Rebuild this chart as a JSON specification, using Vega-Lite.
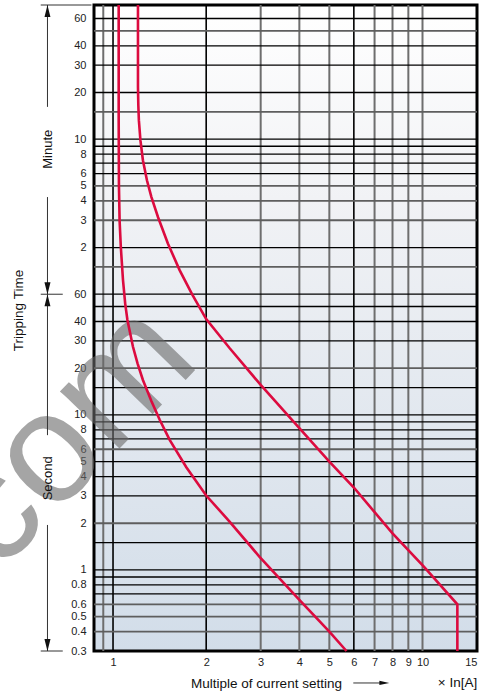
{
  "$schema": "https://vega.github.io/schema/vega-lite/v6.json",
  "width": 383,
  "height": 646,
  "autosize": {"type": "none"},
  "padding": {"left": 94, "top": 5, "right": 11, "bottom": 46},
  "background": "white",
  "config": {"font": "Liberation Sans"},
  "view": {
    "fill": {"gradient": "linear", "x1": 0, "y1": 0, "x2": 0, "y2": 1,
      "stops": [{"offset": 0, "color": "#ffffff"}, {"offset": 0.3, "color": "#f1f2f5"}, {"offset": 1, "color": "#d2dde9"}]},
    "stroke": "#000000",
    "strokeWidth": 3
  },
  "datasets": {
    "vgray": [{"x": 0.93}, {"x": 3}, {"x": 4}, {"x": 5}, {"x": 7}, {"x": 8}, {"x": 9}, {"x": 10}],
    "vblack": [{"x": 1}, {"x": 2}, {"x": 6}],
    "hgray": [{"y": 0.4}, {"y": 0.5}, {"y": 0.6}, {"y": 2}, {"y": 6}, {"y": 20}, {"y": 90}, {"y": 180}, {"y": 240}, {"y": 300}, {"y": 900}, {"y": 3000}],
    "hblack": [{"y": 0.7}, {"y": 0.8}, {"y": 0.9}, {"y": 1}, {"y": 1.5}, {"y": 3}, {"y": 4}, {"y": 5}, {"y": 7}, {"y": 8}, {"y": 9}, {"y": 10}, {"y": 15}, {"y": 30}, {"y": 40}, {"y": 50}, {"y": 60}, {"y": 120}, {"y": 360}, {"y": 420}, {"y": 480}, {"y": 540}, {"y": 600}, {"y": 1200}, {"y": 1800}, {"y": 2400}, {"y": 3600}],
    "curves": [
      {"curve": "A", "i": 0, "x": 1.043, "y": 4400},
      {"curve": "A", "i": 1, "x": 1.043, "y": 800},
      {"curve": "A", "i": 2, "x": 1.045, "y": 300},
      {"curve": "A", "i": 3, "x": 1.05, "y": 180},
      {"curve": "A", "i": 4, "x": 1.06, "y": 120},
      {"curve": "A", "i": 5, "x": 1.077, "y": 74},
      {"curve": "A", "i": 6, "x": 1.095, "y": 52},
      {"curve": "A", "i": 7, "x": 1.113, "y": 40.9},
      {"curve": "A", "i": 8, "x": 1.16, "y": 27.5},
      {"curve": "A", "i": 9, "x": 1.2, "y": 21.5},
      {"curve": "A", "i": 10, "x": 1.249, "y": 16.8},
      {"curve": "A", "i": 11, "x": 1.33, "y": 12.3},
      {"curve": "A", "i": 12, "x": 1.415, "y": 9.3},
      {"curve": "A", "i": 13, "x": 1.524, "y": 6.9},
      {"curve": "A", "i": 14, "x": 1.725, "y": 4.6},
      {"curve": "A", "i": 15, "x": 2.0, "y": 3.02},
      {"curve": "A", "i": 16, "x": 2.38, "y": 2.05},
      {"curve": "A", "i": 17, "x": 2.97, "y": 1.22},
      {"curve": "A", "i": 18, "x": 4.0, "y": 0.64},
      {"curve": "A", "i": 19, "x": 5.0, "y": 0.4},
      {"curve": "A", "i": 20, "x": 5.68, "y": 0.3},
      {"curve": "B", "i": 0, "x": 1.204, "y": 4400},
      {"curve": "B", "i": 1, "x": 1.204, "y": 1300},
      {"curve": "B", "i": 2, "x": 1.207, "y": 1000},
      {"curve": "B", "i": 3, "x": 1.212, "y": 796},
      {"curve": "B", "i": 4, "x": 1.226, "y": 591},
      {"curve": "B", "i": 5, "x": 1.249, "y": 439},
      {"curve": "B", "i": 6, "x": 1.287, "y": 326},
      {"curve": "B", "i": 7, "x": 1.33, "y": 255},
      {"curve": "B", "i": 8, "x": 1.397, "y": 189},
      {"curve": "B", "i": 9, "x": 1.504, "y": 127.6},
      {"curve": "B", "i": 10, "x": 1.641, "y": 85.8},
      {"curve": "B", "i": 11, "x": 1.8, "y": 60},
      {"curve": "B", "i": 12, "x": 2.0, "y": 41.5},
      {"curve": "B", "i": 13, "x": 2.379, "y": 27},
      {"curve": "B", "i": 14, "x": 3.0, "y": 15.6},
      {"curve": "B", "i": 15, "x": 4.0, "y": 8.2},
      {"curve": "B", "i": 16, "x": 5.0, "y": 5.0},
      {"curve": "B", "i": 17, "x": 6.0, "y": 3.4},
      {"curve": "B", "i": 18, "x": 8.0, "y": 1.72},
      {"curve": "B", "i": 19, "x": 10.1, "y": 1.05},
      {"curve": "B", "i": 20, "x": 12.96, "y": 0.6},
      {"curve": "B", "i": 21, "x": 12.96, "y": 0.3}
    ],
    "segv": [
      {"x": 0.614, "y": 4400, "y2": 969},
      {"x": 0.614, "y": 254, "y2": 60},
      {"x": 0.614, "y": 60, "y2": 7.4},
      {"x": 0.614, "y": 1.95, "y2": 0.3}
    ],
    "segh": [
      {"x": 0.584, "x2": 0.852, "y": 4400},
      {"x": 0.584, "x2": 0.688, "y": 60},
      {"x": 0.584, "x2": 0.688, "y": 0.3},
      {"x": 5.976, "x2": 7.5, "y": 0.1866}
    ],
    "arrowUp": [{"x": 0.614, "y": 4400}, {"x": 0.614, "y": 60}],
    "arrowDown": [{"x": 0.614, "y": 60}, {"x": 0.614, "y": 0.3}],
    "arrowRight": [{"x": 7.81, "y": 0.1866}],
    "sideText": [{"x": 0.616, "y": 517, "t": "Minute"}, {"x": 0.616, "y": 3.9, "t": "Second"}],
    "unitText": [{"x": 15.03, "y": 0.1866, "t": "× In[A]"}],
    "wm": [{"x": 0.705, "y": 7.3, "t": "com"}]
  },
  "layer": [
    {
      "data": {"name": "vgray"},
      "mark": {"type": "rule", "color": "#6e6e6e", "strokeWidth": 2},
      "encoding": {
        "x": {
          "field": "x", "type": "quantitative",
          "scale": {"type": "log", "domain": [0.868, 15], "nice": false},
          "axis": {
            "values": [1, 2, 3, 4, 5, 6, 7, 8, 9, 10, 15],
            "format": "d",
            "title": "Multiple of current setting",
            "titleFontSize": 13.5, "titleFontWeight": "normal", "titleColor": "#111111",
            "titleX": 172, "titleY": 32, "titleBaseline": "middle", "titleAlign": "center",
            "labelFontSize": 11, "labelColor": "#222222", "labelPadding": 5,
            "ticks": false, "tickSize": 0, "domain": false, "grid": false,
            "labelFlush": true, "labelOverlap": false
          }
        }
      }
    },
    {
      "data": {"name": "vblack"},
      "mark": {"type": "rule", "color": "#000000", "strokeWidth": 1.6},
      "encoding": {"x": {"field": "x", "type": "quantitative"}}
    },
    {
      "data": {"name": "hgray"},
      "mark": {"type": "rule", "color": "#5e5e5e", "strokeWidth": 1.8},
      "encoding": {
        "y": {
          "field": "y", "type": "quantitative",
          "scale": {"type": "log", "domain": [0.3, 4400], "nice": false},
          "axis": {
            "values": [0.3, 0.4, 0.5, 0.6, 0.8, 1, 2, 3, 4, 5, 6, 8, 10, 20, 30, 40, 60, 120, 180, 240, 300, 360, 480, 600, 1200, 1800, 2400, 3600],
            "labelExpr": "datum.value >= 120 ? toString(datum.value / 60) : toString(datum.value)",
            "title": "Tripping Time",
            "titleFontSize": 13.5, "titleFontWeight": "normal", "titleColor": "#111111",
            "titleX": -76, "titleY": 305, "titleBaseline": "middle", "titleAlign": "center",
            "labelFontSize": 11, "labelColor": "#222222", "labelPadding": 8,
            "ticks": false, "tickSize": 0, "domain": false, "grid": false,
            "labelFlush": false, "labelOverlap": false
          }
        }
      }
    },
    {
      "data": {"name": "hblack"},
      "mark": {"type": "rule", "color": "#000000", "strokeWidth": 1.3},
      "encoding": {"y": {"field": "y", "type": "quantitative"}}
    },
    {
      "data": {"name": "wm"},
      "mark": {"type": "text", "fontSize": 156, "angle": 314, "align": "center", "baseline": "middle", "color": "#6a6a6a", "opacity": 0.6, "font": "Liberation Sans"},
      "encoding": {
        "x": {"field": "x", "type": "quantitative"},
        "y": {"field": "y", "type": "quantitative"},
        "text": {"field": "t"}
      }
    },
    {
      "data": {"name": "curves"},
      "mark": {"type": "line", "color": "#dc0b3f", "strokeWidth": 2.6, "interpolate": "linear"},
      "encoding": {
        "x": {"field": "x", "type": "quantitative"},
        "y": {"field": "y", "type": "quantitative"},
        "detail": {"field": "curve"},
        "order": {"field": "i", "type": "quantitative"}
      }
    },
    {
      "data": {"name": "segv"},
      "mark": {"type": "rule", "color": "#333333", "strokeWidth": 1},
      "encoding": {
        "x": {"field": "x", "type": "quantitative"},
        "y": {"field": "y", "type": "quantitative"},
        "y2": {"field": "y2"}
      }
    },
    {
      "data": {"name": "segh"},
      "mark": {"type": "rule", "color": "#333333", "strokeWidth": 1},
      "encoding": {
        "x": {"field": "x", "type": "quantitative"},
        "x2": {"field": "x2"},
        "y": {"field": "y", "type": "quantitative"}
      }
    },
    {
      "data": {"name": "arrowUp"},
      "mark": {"type": "point", "filled": true, "color": "#111111", "opacity": 1, "size": 36, "shape": "M-1,4L1,4L0,0Z"},
      "encoding": {
        "x": {"field": "x", "type": "quantitative"},
        "y": {"field": "y", "type": "quantitative"}
      }
    },
    {
      "data": {"name": "arrowDown"},
      "mark": {"type": "point", "filled": true, "color": "#111111", "opacity": 1, "size": 36, "shape": "M-1,-4L1,-4L0,0Z"},
      "encoding": {
        "x": {"field": "x", "type": "quantitative"},
        "y": {"field": "y", "type": "quantitative"}
      }
    },
    {
      "data": {"name": "arrowRight"},
      "mark": {"type": "point", "filled": true, "color": "#111111", "opacity": 1, "size": 36, "shape": "M-3.3,-0.7L-3.3,0.7L0,0Z"},
      "encoding": {
        "x": {"field": "x", "type": "quantitative"},
        "y": {"field": "y", "type": "quantitative"}
      }
    },
    {
      "data": {"name": "sideText"},
      "mark": {"type": "text", "fontSize": 13, "angle": 270, "align": "center", "baseline": "middle", "color": "#111111"},
      "encoding": {
        "x": {"field": "x", "type": "quantitative"},
        "y": {"field": "y", "type": "quantitative"},
        "text": {"field": "t"}
      }
    },
    {
      "data": {"name": "unitText"},
      "mark": {"type": "text", "fontSize": 13.5, "align": "right", "baseline": "middle", "color": "#111111"},
      "encoding": {
        "x": {"field": "x", "type": "quantitative"},
        "y": {"field": "y", "type": "quantitative"},
        "text": {"field": "t"}
      }
    }
  ]
}
